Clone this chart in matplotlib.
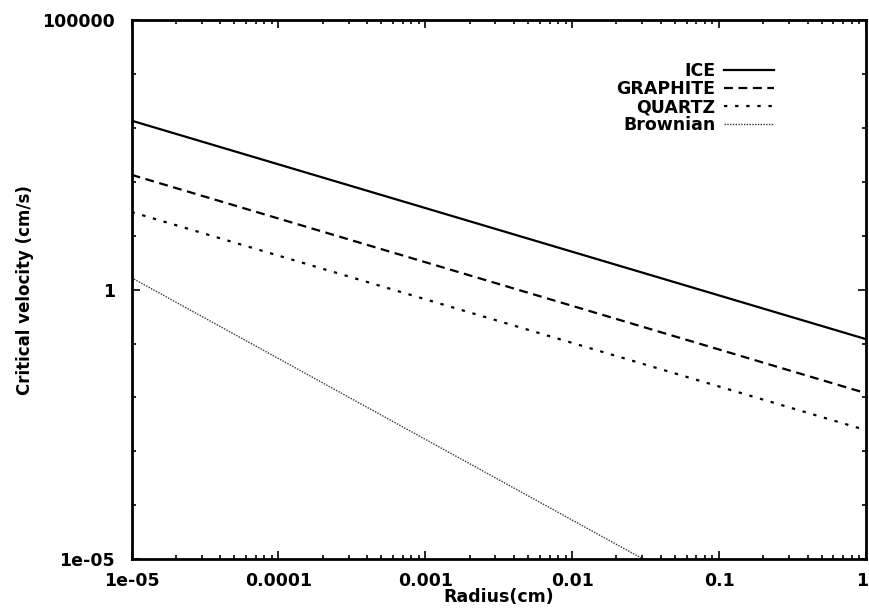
import numpy as np
import matplotlib
matplotlib.use("Agg")
import matplotlib.pyplot as plt
import matplotlib.transforms as mtransforms
from matplotlib.ticker import LogLocator, FixedLocator, NullFormatter

# critical velocity vs grain radius, straight lines on log-log axes
radius = [1e-5, 1.0]
v_ice = [1380.0, 0.121]
v_graphite = [136.0, 0.012]
v_quartz = [27.8, 0.00247]
radius_brown = [1e-5, 1e-3, 1.0]
v_brownian = [1.67, 1.67e-3, 5.3e-8]

xticks = [1e-5, 1e-4, 1e-3, 1e-2, 1e-1, 1]
xticklabels = ["1e-05", "0.0001", "0.001", "0.01", "0.1", "1"]
yticks = [1e-5, 1, 1e5]
yticklabels = ["1e-05", "1", "100000"]

plt.rcParams['font.family'] = ['DejaVu Sans']
plt.rcParams['font.weight'] = 'bold'
plt.rcParams['axes.labelweight'] = 'bold'

fig = plt.figure(figsize=(8.7, 6.09), dpi=100)
ax = fig.add_axes([0.1512, 0.082, 0.8443, 0.8844])

ax.plot(radius, v_ice, color='black', lw=1.6, label='ICE')
ax.plot(radius, v_graphite, color='black', lw=1.6, dashes=(4, 2.5), label='GRAPHITE')
ax.plot(radius, v_quartz, color='black', lw=1.6, dashes=(1.5, 3.5), label='QUARTZ')
ax.plot(radius_brown, v_brownian, color='#333333', lw=1.0, dashes=(1, 1), label='Brownian')

ax.set_xscale('log')
ax.set_yscale('log')
ax.set_xlim(1e-5, 1)
ax.set_ylim(1e-5, 1e5)

ax.set_xticks(xticks)
ax.set_xticklabels(xticklabels)
ax.set_yticks(yticks)
ax.set_yticklabels(yticklabels)
ax.xaxis.set_minor_locator(LogLocator(base=10, subs=np.arange(2, 10)))
ax.xaxis.set_minor_formatter(NullFormatter())
ax.yaxis.set_minor_locator(FixedLocator([10.0 ** k for k in range(-4, 5)]))
ax.yaxis.set_minor_formatter(NullFormatter())

ax.tick_params(which='both', direction='in', top=True, right=True, width=1.2)
ax.tick_params(which='major', length=6, labelsize=12.5)
ax.tick_params(which='minor', length=3)
ax.tick_params(axis='x', pad=9)
ax.tick_params(axis='y', pad=12)

# keep the last x label inside the figure
last = ax.get_xticklabels()[-1]
last.set_transform(last.get_transform() +
                   mtransforms.ScaledTranslation(-4 / 100, 0, fig.dpi_scale_trans))

for s in ax.spines.values():
    s.set_linewidth(2)

ax.set_xlabel('Radius(cm)', fontsize=12.5, labelpad=-1)
ax.set_ylabel('Critical velocity (cm/s)', fontsize=12, labelpad=6)

ax.legend(loc='upper right', bbox_to_anchor=(0.875, 0.922), frameon=False,
          markerfirst=False, fontsize=12.5, handlelength=2.9, handletextpad=0.5,
          labelspacing=0.0, borderpad=0, borderaxespad=0)
for t in ax.get_legend().get_texts():
    t.set_ha('right')

fig.savefig('out.png', dpi=100)
